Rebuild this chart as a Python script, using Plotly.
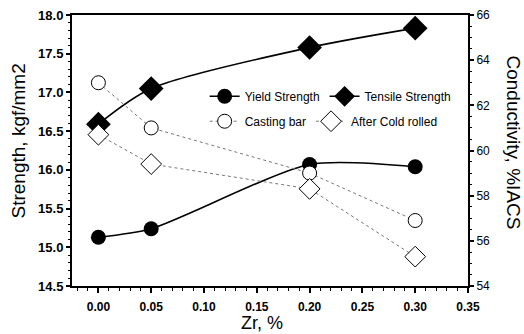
import plotly.graph_objects as go

# ---- data ----
zr = [0.00, 0.05, 0.20, 0.30]
yield_strength = [15.13, 15.24, 16.07, 16.04]
tensile_strength = [16.59, 17.05, 17.58, 17.83]
casting_bar = [63.0, 61.0, 59.0, 56.9]
cold_rolled = [60.7, 59.4, 58.3, 55.3]

x_tick_vals = [0.00, 0.05, 0.10, 0.15, 0.20, 0.25, 0.30, 0.35]
x_tick_text = ["0.00", "0.05", "0.10", "0.15", "0.20", "0.25", "0.30", "0.35"]

FONT = "Liberation Sans, Arial, sans-serif"

fig = go.Figure()

fig.add_trace(go.Scatter(
    x=zr, y=yield_strength, name="Yield Strength", mode="lines+markers",
    line=dict(color="black", width=1.6, shape="spline", smoothing=0.7),
    marker=dict(symbol="circle", size=15, color="black"),
    legend="legend",
))
fig.add_trace(go.Scatter(
    x=zr, y=tensile_strength, name="Tensile Strength", mode="lines+markers",
    line=dict(color="black", width=1.6, shape="spline", smoothing=0.8),
    marker=dict(symbol="diamond", size=19, color="black"),
    legend="legend",
))
fig.add_trace(go.Scatter(
    x=zr, y=casting_bar, name="Casting bar", mode="lines+markers", yaxis="y2",
    line=dict(color="#777777", width=1, dash="dot"),
    marker=dict(symbol="circle", size=14, color="white",
                line=dict(color="black", width=1)),
    legend="legend2",
))
fig.add_trace(go.Scatter(
    x=zr, y=cold_rolled, name="After Cold rolled", mode="lines+markers", yaxis="y2",
    line=dict(color="#777777", width=1, dash="dot"),
    marker=dict(symbol="diamond", size=16, color="white",
                line=dict(color="black", width=1)),
    legend="legend2",
))

legend_common = dict(
    orientation="h", xanchor="left", yanchor="middle",
    bgcolor="rgba(0,0,0,0)", borderwidth=0,
    font=dict(family=FONT, size=12, color="black"),
    tracegroupgap=0,
)

fig.update_layout(
    template="none",
    width=524, height=334,
    margin=dict(l=72, r=56, t=15, b=48, pad=0),
    paper_bgcolor="white", plot_bgcolor="white",
    font=dict(family=FONT, color="black"),
    showlegend=True,
    legend=dict(x=0.335, y=0.70, **legend_common),
    legend2=dict(x=0.335, y=0.608, **legend_common),
    xaxis=dict(
        range=[-0.025, 0.35], tickvals=x_tick_vals, ticktext=x_tick_text,
        automargin=False,
        ticks="outside", ticklen=5, tickwidth=1.5, tickcolor="black",
        ticklabelstandoff=4,
        showline=True, linewidth=2, linecolor="black", mirror=True,
        showgrid=False, zeroline=False,
        tickfont=dict(family=FONT, size=12, color="black", weight="bold"),
        minor=dict(dtick=0.01, tick0=0, ticks="outside", ticklen=3,
                   tickwidth=1, tickcolor="black", showgrid=False),
    ),
    yaxis=dict(
        range=[14.5, 18.0], dtick=0.5, tick0=14.5, tickformat=".1f",
        automargin=False,
        ticks="outside", ticklen=4, tickwidth=1.5, tickcolor="black",
        showline=True, linewidth=2, linecolor="black",
        showgrid=False, zeroline=False,
        tickfont=dict(family=FONT, size=13, color="black", weight="bold"),
        minor=dict(dtick=0.1, tick0=14.5, ticks="outside", ticklen=2,
                   tickwidth=1, tickcolor="black", showgrid=False),
    ),
    yaxis2=dict(
        range=[54, 66], dtick=2, tick0=54, overlaying="y", side="right",
        automargin=False,
        ticks="outside", ticklen=4, tickwidth=1.5, tickcolor="black",
        showline=True, linewidth=2, linecolor="black",
        showgrid=False, zeroline=False,
        tickfont=dict(family=FONT, size=12, color="black"),
        minor=dict(dtick=0.5, tick0=54, ticks="outside", ticklen=2,
                   tickwidth=1, tickcolor="black", showgrid=False),
    ),
    annotations=[
        dict(
            text="Strength, kgf/mm2", textangle=-90,
            xref="paper", yref="paper", x=0.0, y=0.5,
            xanchor="center", yanchor="middle", xshift=-54, yshift=9,
            showarrow=False, font=dict(family=FONT, size=19, color="black"),
        ),
        dict(
            text="Conductivity, %IACS", textangle=90,
            xref="paper", yref="paper", x=1.0, y=0.5,
            xanchor="center", yanchor="middle", xshift=45, yshift=8,
            showarrow=False, font=dict(family=FONT, size=19, color="black"),
        ),
        dict(
            text="Zr, %",
            xref="paper", yref="paper", x=0.5, y=0.0,
            xanchor="center", yanchor="middle", xshift=-8, yshift=-37,
            showarrow=False, font=dict(family=FONT, size=18, color="black"),
        ),
    ],
)

fig.write_html("out.html", config={"displayModeBar": False},
               post_script="document.body.style.margin='0';")
